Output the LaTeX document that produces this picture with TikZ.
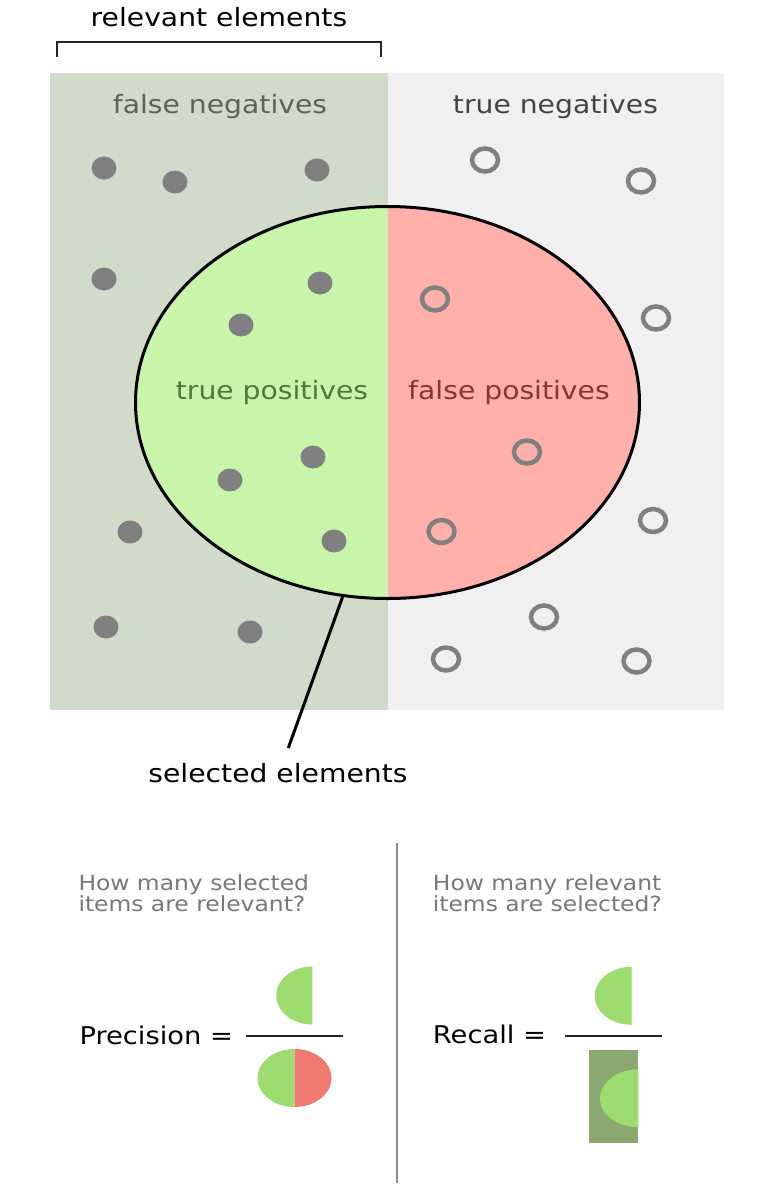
\documentclass[tikz,border=0pt]{standalone}
\usepackage{fontspec}
\setmainfont{DejaVu Sans}[FakeStretch=1.12]
\usetikzlibrary{shapes.geometric}
\definecolor{fnbg}{RGB}{209,219,202}
\definecolor{tnbg}{RGB}{240,240,240}
\definecolor{tpfill}{RGB}{200,245,170}
\definecolor{fpfill}{RGB}{255,176,170}
\definecolor{dotgrey}{RGB}{128,128,128}
\definecolor{fntext}{RGB}{88,104,80}
\definecolor{tntext}{RGB}{68,68,68}
\definecolor{tptext}{RGB}{76,122,56}
\definecolor{fptext}{RGB}{140,52,52}
\definecolor{qtext}{RGB}{120,120,120}
\definecolor{fgreen}{RGB}{156,220,112}
\definecolor{fred}{RGB}{240,122,112}
\definecolor{fdark}{RGB}{138,168,112}
\definecolor{divgrey}{RGB}{140,140,140}
\begin{document}
\begin{tikzpicture}[x=1pt,y=-1pt,
  biglabel/.style={inner sep=0pt, anchor=base, font=\fontsize{25.2}{30}\selectfont},
  question/.style={inner sep=0pt, anchor=west, align=left, text=qtext, font=\fontsize{20.9}{21.5}\selectfont},
  formula/.style={inner sep=0pt, anchor=base west, font=\fontsize{24.4}{29}\selectfont},
  fulldot/.style={fill=dotgrey},
  ring/.style={draw=dotgrey, line width=4.5pt},
  fracline/.style={line width=2pt, black!85},
  halfdisk/.style={fill=fgreen}
]
\useasboundingbox[fill=white] (0,0) rectangle (758,1194);
% backgrounds
\fill[fnbg] (50,73) rectangle (387.5,710);
\fill[tnbg] (387.5,73) rectangle (724,710);
% bracket
\coordinate (brl) at (57,57);
\coordinate (brr) at (381,57);
\draw[line width=2.4pt, black!85] (brl) -- (57,42) -- (381,42) -- (brr);
\node[biglabel] (rel) at (219,26) {relevant elements};
% selected ellipse fills
\begin{scope}
\clip (387.5,402.5) ellipse [x radius=252pt, y radius=196pt];
\fill[tpfill] (130,200) rectangle (387.5,605);
\fill[fpfill] (387.5,200) rectangle (645,605);
\end{scope}
% dots
\foreach \x/\y in {104/168, 175/182, 317/170, 104/279, 320/283, 241/325,
  313/457, 230/480, 130/532, 334/541, 106/627, 250/632}
  \fill[fulldot] (\x,\y) ellipse [x radius=12.5pt, y radius=11.5pt];
\foreach \x/\y in {485/160, 641/181, 435/299, 656/318, 527/452, 441.5/531.5,
  653/520.5, 544/617, 446/659, 636.5/661}
  \draw[ring] (\x,\y) ellipse [x radius=13pt, y radius=11.5pt];
% ellipse outline
\node[draw, ellipse, line width=3pt, minimum width=504pt, minimum height=392pt, inner sep=0pt] (sel) at (387.5,402.5) {};
% labels
\node[biglabel, text=fntext] (fn) at (220,113.3) {false negatives};
\node[biglabel, text=tntext] (tn) at (555.5,113.3) {true negatives};
\node[biglabel, text=tptext] (tp) at (272,399) {true positives};
\node[biglabel, text=fptext] (fp) at (509,399) {false positives};
\node[biglabel] (selt) at (278,782.7) {selected elements};
\coordinate (selend) at (288.3,748);
\draw[line width=3pt] (sel.-103) -- (selend);
% divider
\draw[divgrey, line width=2pt] (396.7,843) -- (396.7,1183);
% questions
\node[question] (q1) at (78.3,893) {How many selected\\items are relevant?};
\node[question] (q2) at (432.7,893) {How many relevant\\items are selected?};
% precision
\node[formula] (prec) at (79.3,1044.3) {Precision =};
\draw[fracline] (245.7,1036) -- (343.3,1036);
\fill[halfdisk] (312.3,966.5) arc[start angle=90, end angle=270, x radius=36pt, y radius=29pt] -- cycle;
\fill[fgreen] (294.5,1049) arc[start angle=90, end angle=270, x radius=37pt, y radius=29pt] -- cycle;
\fill[fred] (294.5,1049) arc[start angle=90, end angle=-90, x radius=37pt, y radius=29pt] -- cycle;
% recall
\node[formula] (rec) at (432.7,1043.3) {Recall =};
\draw[fracline] (565,1036) -- (661.7,1036);
\fill[halfdisk] (631.7,966.8) arc[start angle=90, end angle=270, x radius=37pt, y radius=29pt] -- cycle;
\fill[fdark] (588.7,1050) rectangle (638.3,1142.7);
\fill[halfdisk] (638.3,1069.3) arc[start angle=90, end angle=270, x radius=38.3pt, y radius=29pt] -- cycle;
\end{tikzpicture}
\end{document}
